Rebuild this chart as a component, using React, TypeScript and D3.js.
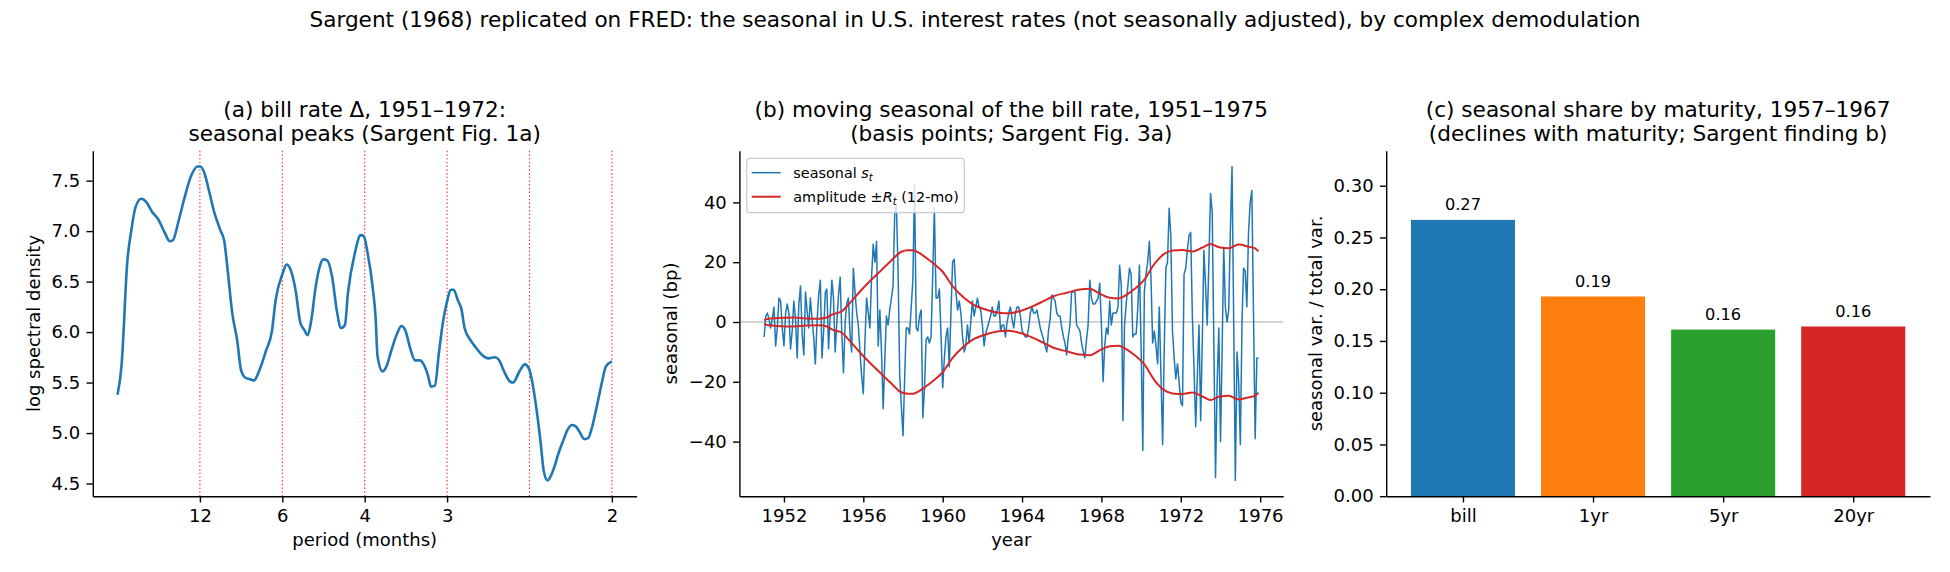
import React, { useRef, useEffect } from 'react';
import * as d3 from 'd3';

// ---- (a) log spectral density of the bill-rate change, x = frequency (cycles / month)
const specFreq = [
  0.0, 0.004, 0.01, 0.014, 0.018, 0.024, 0.029, 0.035, 0.041, 0.047, 0.053, 0.056, 0.062, 0.068, 0.075,
  0.081, 0.084, 0.088, 0.093, 0.098, 0.104, 0.108, 0.111, 0.116, 0.121, 0.125, 0.129, 0.135, 0.138, 0.143,
  0.15, 0.156, 0.16, 0.167, 0.171, 0.175, 0.18, 0.185, 0.189, 0.192, 0.196, 0.2, 0.204, 0.208, 0.212,
  0.217, 0.222, 0.226, 0.23, 0.233, 0.24, 0.246, 0.249, 0.253, 0.258, 0.261, 0.263, 0.268, 0.272, 0.277,
  0.283, 0.287, 0.291, 0.296, 0.301, 0.306, 0.309, 0.314, 0.317, 0.321, 0.325, 0.329, 0.333, 0.337, 0.34,
  0.344, 0.348, 0.351, 0.357, 0.363, 0.369, 0.375, 0.382, 0.386, 0.391, 0.397, 0.4, 0.407, 0.412, 0.416,
  0.419, 0.423, 0.428, 0.431, 0.435, 0.438, 0.442, 0.446, 0.451, 0.455, 0.46, 0.464, 0.468, 0.472, 0.476,
  0.48, 0.484, 0.489, 0.494, 0.5,
];
const specLogDensity = [
  5.38, 5.66, 6.71, 7.01, 7.23, 7.32, 7.29, 7.19, 7.12, 7.0, 6.9, 6.91, 7.11, 7.34, 7.56,
  7.64, 7.64, 7.57, 7.38, 7.18, 7.01, 6.9, 6.65, 6.19, 5.92, 5.62, 5.55, 5.53, 5.52, 5.61,
  5.81, 6.0, 6.32, 6.58, 6.67, 6.62, 6.42, 6.09, 6.02, 5.97, 6.12, 6.42, 6.63, 6.72, 6.71,
  6.55, 6.2, 6.04, 6.07, 6.38, 6.78, 6.96, 6.95, 6.78, 6.45, 6.15, 5.76, 5.61, 5.66, 5.82,
  5.99, 6.06, 6.02, 5.84, 5.72, 5.72, 5.69, 5.57, 5.46, 5.47, 5.79, 6.09, 6.29, 6.42, 6.42,
  6.32, 6.22, 6.04, 5.92, 5.84, 5.77, 5.74, 5.75, 5.72, 5.61, 5.51, 5.5, 5.62, 5.68, 5.64,
  5.53, 5.29, 4.9, 4.63, 4.53, 4.57, 4.67, 4.8, 4.93, 5.03, 5.08, 5.06, 5.0, 4.94, 4.95,
  5.06, 5.23, 5.46, 5.66, 5.71,
];
const seasonalHarmonics = [1, 2, 3, 4, 5, 6]; // k/12 cycles per month
const periodTicks = [12, 6, 4, 3, 2];

// ---- (b) moving seasonal of the bill rate (bp), monthly from Jan 1951
const seasonalStart = [1951, 0];
const seasonalBp = [
  -5, 2, 3, 1, -2, 1, 5, -8, -2, 8,
  7, -2, -8, 3, 6, 3, -9, -3, 7, 1,
  -12, 6, 12, -4, -11, 10, 4, -2, 8, 1,
  -5, -14, 0, 9, 14, -12, -3, 10, 11, -9,
  2, 14, 8, -10, 0, 9, 15, -4, -17, 0,
  6, 8, -4, -10, 18, 10, 3, -1, -10, -18,
  -24, -6, 8, 3, -2, 15, 26, 20, 27, -8,
  4, -10, -29, -12, 2, -1, 4, 8, 12, 36,
  39, 18, -18, -28, -38, -18, -2, -2, -4, 5,
  14, 46, -2, -3, 2, 4, -32, -22, -6, -5,
  -7, -5, 15, 38, 8, 8, 11, -4, -22, -12,
  -5, -2, -15, 3, 20, 21, 10, 4, 7, 3,
  -5, -10, -8, -1, -7, 0, 7, 2, 5, 8,
  5, 4, -1, -8, -4, -2, 0, 2, 5, 2,
  2, 4, 7, -3, -1, -1, -5, 0, 3, 5,
  1, -2, 3, 5, 5, 2, -3, -4, -5, -5,
  -2, 3, 5, 3, 3, 4, 1, -2, -4, -6,
  -8, -10, -3, 1, 9, 8, 7, 3, 2, 2,
  -2, -5, -7, -11, -5, -1, 10, 10, 10, -1,
  -2, -3, -7, -10, -12, -6, -1, 14, 8, 6,
  6, 7, 8, 13, -1, -20, -8, -2, -4, 7,
  -1, 3, 3, 3, 5, 19, 12, -33, -1, 6,
  12, 18, 16, -5, -4, -4, 5, 19, -9, -43,
  10, 16, 20, 27, 15, -7, -3, -8, -14, 5,
  -18, -41, -10, 18, 20, 38, 29, -3, -12, -19,
  -14, -20, -27, -28, 16, 18, 24, 29, 30, 2,
  -16, -35, -18, -1, -33, -5, 24, 12, -1, 20,
  43, 37, -8, -52, -20, -2, -40, -8, 25, 5,
  0, 4, 30, 52, 0, -53, -10, -20, -41, 0,
  18, 17, 5, 30, 40, 44, 2, -39, -12, -12,
];
// 12-month amplitude R_t, read at these month offsets from Jan 1951
const ampMonth = [
  0, 2, 8, 18, 25, 33, 38, 41, 47, 52, 59, 65, 71, 77, 83, 87, 90, 94, 98, 102, 108, 114, 120, 126,
  134, 142, 148, 155, 163, 169, 175, 183, 191, 197, 203, 209, 214, 222, 230, 236, 242, 247, 253, 259,
  265, 270, 275, 281, 287, 293, 297, 299,
];
const ampBp = [
  0.6, 1.0, 1.3, 1.5, 1.2, 1.1, 1.5, 2.5, 3.6, 6.4, 10.8, 14.2, 17.4, 20.6, 23.5, 24.0, 24.0, 23.0, 21.5,
  19.8, 16.8, 12.0, 8.5, 6.0, 4.2, 3.1, 2.9, 3.7, 5.4, 7.0, 8.6, 9.8, 10.9, 11.1, 9.5, 8.1, 7.9, 10.2,
  14.2, 19.4, 22.8, 23.9, 24.1, 23.6, 24.9, 26.1, 25.0, 24.7, 25.9, 25.2, 24.6, 23.6,
];
const yearTicks = [1952, 1956, 1960, 1964, 1968, 1972, 1976];
const seasonalTicks = [-40, -20, 0, 20, 40];

// ---- (c) seasonal share of variance by maturity, 1957-1967
const maturities = ['bill', '1yr', '5yr', '20yr'];
const seasonalShare = [0.267, 0.193, 0.161, 0.164];
const shareTicks = [0, 0.05, 0.1, 0.15, 0.2, 0.25, 0.3];
const barColors = ['#1f77b4', '#ff7f0e', '#2ca02c', '#d62728'];

const W = 1950;
const H = 572;
const TOP = 150.8;
const BOTTOM = 496.2;
const PW = 543.8;
const LEFTS = [92.8, 739.4, 1386.2];
const FONT = "'DejaVu Sans', sans-serif";
const TICK_FS = 18;
const TITLE_FS = 21.6;

const App: React.FC = () => {
  const svgRef = useRef<SVGSVGElement | null>(null);

  useEffect(() => {
    if (!svgRef.current) return;
    const svg = d3.select(svgRef.current);
    svg.selectAll('*').remove();

    // style a d3 axis the way matplotlib draws it
    const styleAxis = (g: d3.Selection<SVGGElement, unknown, null, undefined>) => {
      g.attr('font-family', FONT).attr('font-size', TICK_FS);
      g.select('.domain').attr('stroke', '#000').attr('stroke-width', 1.4);
      g.selectAll('.tick line').attr('stroke', '#000').attr('stroke-width', 1.4);
      g.selectAll('.tick text').attr('fill', '#000');
    };

    const title = (cx: number, l1: string, l2: string) => {
      const t = svg.append('text')
        .attr('font-family', FONT)
        .attr('font-size', TITLE_FS)
        .attr('text-anchor', 'middle');
      t.append('tspan').attr('x', cx).attr('y', 116.5).text(l1);
      t.append('tspan').attr('x', cx).attr('y', 140.5).text(l2);
    };

    const yLabel = (x: number, label: string) => {
      svg.append('text')
        .attr('transform', `translate(${x},${(TOP + BOTTOM) / 2}) rotate(-90)`)
        .attr('font-family', FONT)
        .attr('font-size', TICK_FS)
        .attr('text-anchor', 'middle')
        .text(label);
    };

    const xLabel = (cx: number, label: string) => {
      svg.append('text')
        .attr('x', cx)
        .attr('y', 546)
        .attr('font-family', FONT)
        .attr('font-size', TICK_FS)
        .attr('text-anchor', 'middle')
        .text(label);
    };

    // suptitle
    svg.append('text')
      .attr('x', W / 2)
      .attr('y', 26.7)
      .attr('font-family', FONT)
      .attr('font-size', TITLE_FS)
      .attr('text-anchor', 'middle')
      .text('Sargent (1968) replicated on FRED: the seasonal in U.S. interest rates (not seasonally adjusted), by complex demodulation');

    // ===== panel (a)
    {
      const x0 = LEFTS[0];
      const x = d3.scaleLinear().domain([-0.025, 0.525]).range([x0, x0 + PW]);
      const [lo, hi] = d3.extent(specLogDensity) as [number, number];
      const pad = (hi - lo) * 0.05;
      const y = d3.scaleLinear().domain([lo - pad, hi + pad]).range([BOTTOM, TOP]);

      svg.append('g')
        .selectAll('line')
        .data(seasonalHarmonics)
        .enter()
        .append('line')
        .attr('x1', d => x(d / 12))
        .attr('x2', d => x(d / 12))
        .attr('y1', TOP)
        .attr('y2', BOTTOM)
        .attr('stroke', 'red')
        .attr('stroke-width', 1.1)
        .attr('stroke-dasharray', '1.4 2.3')
        .attr('opacity', 0.85);

      const line = d3.line<number>()
        .x((_, i) => x(specFreq[i]))
        .y(d => y(d))
        .curve(d3.curveMonotoneX);
      svg.append('path')
        .attr('d', line(specLogDensity))
        .attr('fill', 'none')
        .attr('stroke', '#1f77b4')
        .attr('stroke-width', 2.6)
        .attr('stroke-linejoin', 'round');

      const ya = svg.append('g')
        .attr('transform', `translate(${x0},0)`)
        .call(d3.axisLeft(y).tickValues([4.5, 5, 5.5, 6, 6.5, 7, 7.5]).tickFormat(d3.format('.1f'))
          .tickSize(6.3).tickPadding(6.3).tickSizeOuter(0));
      styleAxis(ya);
      const xa = svg.append('g')
        .attr('transform', `translate(0,${BOTTOM})`)
        .call(d3.axisBottom(x).tickValues(periodTicks.map(p => 1 / p)).tickFormat((_, i) => String(periodTicks[i]))
          .tickSize(6.3).tickPadding(6.3).tickSizeOuter(0));
      styleAxis(xa);

      title(x0 + PW / 2, '(a) bill rate Δ, 1951–1972:', 'seasonal peaks (Sargent Fig. 1a)');
      yLabel(40, 'log spectral density');
      xLabel(x0 + PW / 2, 'period (months)');
    }

    // ===== panel (b)
    {
      const x0 = LEFTS[1];
      const start = new Date(seasonalStart[0], seasonalStart[1], 1);
      const dates = seasonalBp.map((_, i) => d3.timeMonth.offset(start, i));
      const t0 = +dates[0];
      const t1 = +dates[dates.length - 1];
      const m = (t1 - t0) * 0.05;
      const x = d3.scaleTime().domain([new Date(t0 - m), new Date(t1 + m)]).range([x0, x0 + PW]);
      const [lo, hi] = d3.extent(seasonalBp) as [number, number];
      const pad = (hi - lo) * 0.05;
      const y = d3.scaleLinear().domain([lo - pad, hi + pad]).range([BOTTOM, TOP]);

      svg.append('line')
        .attr('x1', x0).attr('x2', x0 + PW)
        .attr('y1', y(0)).attr('y2', y(0))
        .attr('stroke', '#a8a8a8')
        .attr('stroke-width', 1.1);

      const sLine = d3.line<number>()
        .x((_, i) => x(dates[i]))
        .y(d => y(d));
      svg.append('path')
        .attr('d', sLine(seasonalBp))
        .attr('fill', 'none')
        .attr('stroke', '#1f77b4')
        .attr('stroke-width', 1.5)
        .attr('stroke-linejoin', 'round');

      const ampDates = ampMonth.map(k => d3.timeMonth.offset(start, k));
      [1, -1].forEach(sign => {
        const aLine = d3.line<number>()
          .x((_, i) => x(ampDates[i]))
          .y(d => y(sign * d))
          .curve(d3.curveMonotoneX);
        svg.append('path')
          .attr('d', aLine(ampBp))
          .attr('fill', 'none')
          .attr('stroke', '#d62728')
          .attr('stroke-width', 2);
      });

      const ya = svg.append('g')
        .attr('transform', `translate(${x0},0)`)
        .call(d3.axisLeft(y).tickValues(seasonalTicks)
          .tickFormat(d => (+d < 0 ? '−' + Math.abs(+d) : String(d)))
          .tickSize(6.3).tickPadding(6.3).tickSizeOuter(0));
      styleAxis(ya);
      const xa = svg.append('g')
        .attr('transform', `translate(0,${BOTTOM})`)
        .call(d3.axisBottom(x).tickValues(yearTicks.map(yr => new Date(yr, 0, 1)))
          .tickFormat(d => String((d as Date).getFullYear()))
          .tickSize(6.3).tickPadding(6.3).tickSizeOuter(0));
      styleAxis(xa);

      // legend
      const lg = svg.append('g').attr('font-family', FONT).attr('font-size', 14.4);
      lg.append('rect')
        .attr('x', 746.7).attr('y', 158.3)
        .attr('width', 217.6).attr('height', 54.4)
        .attr('rx', 3)
        .attr('fill', 'white').attr('fill-opacity', 0.8)
        .attr('stroke', '#cccccc').attr('stroke-width', 1.2);
      const items = [
        { color: '#1f77b4', y: 172.7, w: 1.5 },
        { color: '#d62728', y: 196.7, w: 2 },
      ];
      items.forEach(it => {
        lg.append('line')
          .attr('x1', 751.7).attr('x2', 780.7)
          .attr('y1', it.y).attr('y2', it.y)
          .attr('stroke', it.color).attr('stroke-width', it.w);
      });
      const t1t = lg.append('text').attr('x', 793.3).attr('y', 177.5);
      t1t.append('tspan').text('seasonal ');
      t1t.append('tspan').attr('font-style', 'italic').text('s');
      t1t.append('tspan').attr('font-style', 'italic').attr('font-size', 10.1).attr('dy', 3).text('t');
      const t2t = lg.append('text').attr('x', 793.3).attr('y', 201.5);
      t2t.append('tspan').text('amplitude ±');
      t2t.append('tspan').attr('font-style', 'italic').text('R');
      t2t.append('tspan').attr('font-style', 'italic').attr('font-size', 10.1).attr('dy', 3).text('t');
      t2t.append('tspan').attr('dy', -3).text(' (12-mo)');

      title(x0 + PW / 2, '(b) moving seasonal of the bill rate, 1951–1975', '(basis points; Sargent Fig. 3a)');
      yLabel(677, 'seasonal (bp)');
      xLabel(x0 + PW / 2, 'year');
    }

    // ===== panel (c)
    {
      const x0 = LEFTS[2];
      const n = maturities.length;
      const x = d3.scaleLinear().domain([-0.4 - 0.05 * (n - 1 + 0.8), n - 1 + 0.4 + 0.05 * (n - 1 + 0.8)])
        .range([x0, x0 + PW]);
      const y = d3.scaleLinear().domain([0, (d3.max(seasonalShare) as number) * 1.25]).range([BOTTOM, TOP]);

      svg.append('g')
        .selectAll('rect')
        .data(seasonalShare)
        .enter()
        .append('rect')
        .attr('x', (_, i) => x(i - 0.4))
        .attr('width', (_, i) => x(i + 0.4) - x(i - 0.4))
        .attr('y', d => y(d))
        .attr('height', d => BOTTOM - y(d))
        .attr('fill', (_, i) => barColors[i]);

      svg.append('g')
        .selectAll('text')
        .data(seasonalShare)
        .enter()
        .append('text')
        .attr('x', (_, i) => x(i))
        .attr('y', d => y(d) - 9.5)
        .attr('font-family', FONT)
        .attr('font-size', 16.2)
        .attr('text-anchor', 'middle')
        .text(d => d.toFixed(2));

      const ya = svg.append('g')
        .attr('transform', `translate(${x0},0)`)
        .call(d3.axisLeft(y).tickValues(shareTicks).tickFormat(d3.format('.2f'))
          .tickSize(6.3).tickPadding(6.3).tickSizeOuter(0));
      styleAxis(ya);
      const xa = svg.append('g')
        .attr('transform', `translate(0,${BOTTOM})`)
        .call(d3.axisBottom(x).tickValues(d3.range(n)).tickFormat((_, i) => maturities[i])
          .tickSize(6.3).tickPadding(6.3).tickSizeOuter(0));
      styleAxis(xa);

      title(x0 + PW / 2, '(c) seasonal share by maturity, 1957–1967', '(declines with maturity; Sargent finding b)');
      yLabel(1322, 'seasonal var. / total var.');
    }
  }, []);

  return (
    <svg
      ref={svgRef}
      width={W}
      height={H}
      style={{ position: 'absolute', left: 0, top: 0, background: 'white' }}
    />
  );
};

export default App;
